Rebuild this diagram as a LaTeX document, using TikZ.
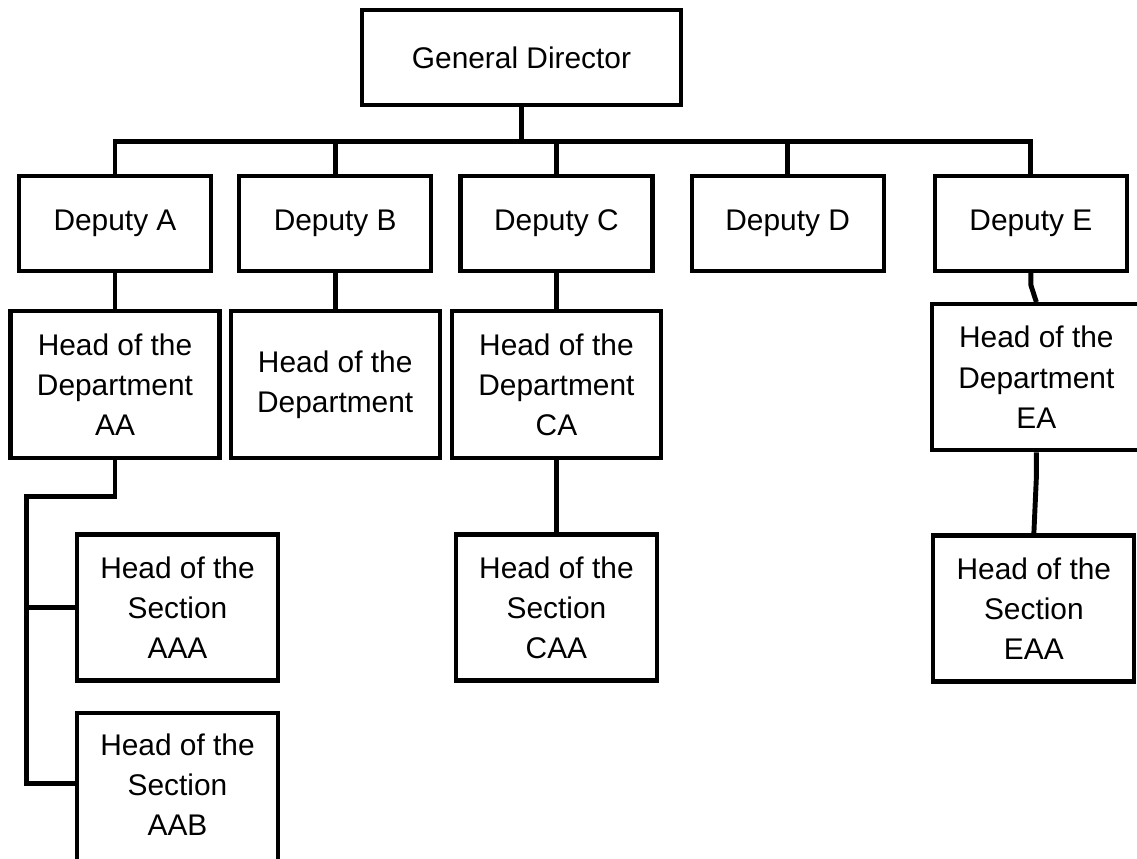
\documentclass[tikz,border=0pt]{standalone}
\usepackage{fontspec}
\setmainfont{Liberation Sans}
\usepackage{tikz}
\usetikzlibrary{positioning}

\begin{document}
\begin{tikzpicture}[
    box/.style={draw, line width=2.4pt, align=center, inner sep=2pt,
                font=\fontsize{17}{22.8}\selectfont},
    deputy/.style={box, minimum width=3.84cm, minimum height=1.9cm},
    dept/.style={box, minimum width=4.18cm, minimum height=2.94cm},
    section/.style={box, minimum width=4.02cm, minimum height=2.92cm},
    link/.style={line width=2.8pt}
]
\useasboundingbox (0,0) rectangle (22.74,17.16);
\node[box, minimum width=6.38cm, minimum height=1.9cm] (director) at (10.43,16.01)
    {General Director};
\node[deputy] (deputyA) at (2.30,12.69) {Deputy A};
\node[deputy, right=0.48cm of deputyA] (deputyB) {Deputy B};
\node[deputy, right=0.50cm of deputyB] (deputyC) {Deputy C};
\node[deputy, right=0.70cm of deputyC] (deputyD) {Deputy D};
\node[deputy, right=0.94cm of deputyD] (deputyE) {Deputy E};
\node[dept, below=0.72cm of deputyA] (deptAA)
    {Head of the\\Department\\AA};
\node[dept, below=0.72cm of deputyB] (deptB)
    {Head of the\\Department};
\node[dept, below=0.72cm of deputyC] (deptCA)
    {Head of the\\Department\\CA};
\node[dept, minimum height=2.92cm, below=0.58cm of deputyE, xshift=0.11cm] (deptEA)
    {Head of the\\Department\\EA};
\node[section, below=1.44cm of deptAA, xshift=1.25cm] (secAAA)
    {Head of the\\Section\\AAA};
\node[section, minimum height=3.2cm, anchor=north, below=0.56cm of secAAA] (secAAB)
    {\\[-0.68cm]Head of the\\Section\\AAB};
\node[section, below=1.62cm of deptEA, xshift=-0.05cm] (secEAA)
    {Head of the\\Section\\EAA};
\node[section, below=1.44cm of deptCA] (secCAA)
    {Head of the\\Section\\CAA};
\coordinate[left=0.96cm of secAAA.west] (spine);
\draw[link] (director.south) -- ++(0,-0.68) coordinate (bus);
\draw[link] (deputyA.north) |- (bus) -| (deputyE.north);
\draw[link] (deputyB.north) -- (deputyB.north |- bus);
\draw[link] (deputyC.north) -- (deputyC.north |- bus);
\draw[link] (deputyD.north) -- (deputyD.north |- bus);
\draw[link] (deputyA) -- (deptAA);
\draw[link] (deputyB) -- (deptB);
\draw[link] (deputyC) -- (deptCA);
\draw[link] (deputyE.south) -- ++(0,-0.24) -- (deptEA.north);
\draw[link] (deptCA) -- (secCAA);
\draw[link] (deptEA.south) -- ++(0,-0.5) -- (secEAA.north);
\draw[link] (deptAA.south) -- ++(0,-0.72) -| ([yshift=-3.52cm]spine)
    -- ([yshift=-3.52cm]spine -| secAAB.west);
\draw[link] (secAAA.west) -- (spine);
\end{tikzpicture}
\end{document}
